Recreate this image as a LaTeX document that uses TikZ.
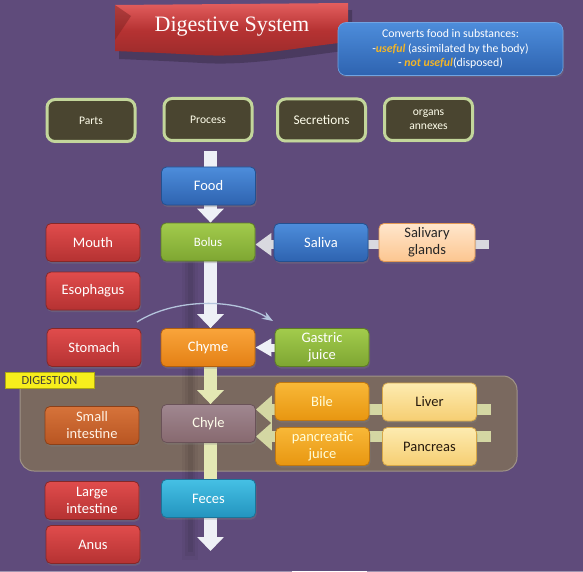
\documentclass[tikz,border=0pt]{standalone}
\usepackage{fontspec}
\setmainfont{Carlito}
\newfontfamily\titlefont{Liberation Serif}
\usetikzlibrary{arrows.meta,shadows}
\pgfdeclarelayer{bg}\pgfdeclarelayer{arr}
\pgfsetlayers{bg,arr,main}
\definecolor{bgP}{HTML}{5F4B7B}
\definecolor{hdrF}{HTML}{4A4530}
\definecolor{hdrD}{HTML}{C3D69B}
\definecolor{redT}{HTML}{E04C4C}
\definecolor{redB}{HTML}{B53232}
\definecolor{redD}{HTML}{862828}
\definecolor{bluT}{HTML}{4D8DDB}
\definecolor{bluB}{HTML}{2E63B0}
\definecolor{bluD}{HTML}{24508F}
\definecolor{grnT}{HTML}{A2CB4C}
\definecolor{grnB}{HTML}{7EA632}
\definecolor{grnD}{HTML}{5E7E24}
\definecolor{pchT}{HTML}{FFE6CC}
\definecolor{pchB}{HTML}{FCC690}
\definecolor{pchD}{HTML}{E49A55}
\definecolor{orgT}{HTML}{F9A53A}
\definecolor{orgB}{HTML}{E47F15}
\definecolor{orgD}{HTML}{B05F10}
\definecolor{sinT}{HTML}{D6733A}
\definecolor{sinB}{HTML}{B85522}
\definecolor{sinD}{HTML}{8C4018}
\definecolor{chlT}{HTML}{A08790}
\definecolor{chlB}{HTML}{87696F}
\definecolor{chlD}{HTML}{6A5258}
\definecolor{bilT}{HTML}{F8B838}
\definecolor{bilB}{HTML}{E89610}
\definecolor{bilD}{HTML}{C07810}
\definecolor{livT}{HTML}{FDEBB0}
\definecolor{livB}{HTML}{F6CE72}
\definecolor{livD}{HTML}{D8A848}
\definecolor{fecT}{HTML}{45C0E4}
\definecolor{fecB}{HTML}{2394BF}
\definecolor{fecD}{HTML}{1C7498}
\definecolor{arrW}{HTML}{EEF0F6}
\definecolor{arrY}{HTML}{E4E8B4}
\definecolor{arrG}{HTML}{D9D9DF}
\definecolor{arrL}{HTML}{D4D7A3}
\definecolor{grpF}{HTML}{7C6B5E}
\definecolor{grpD}{HTML}{A09488}
\definecolor{yel}{HTML}{F2B528}
\definecolor{labY}{HTML}{F7EE1C}
\definecolor{curveC}{HTML}{B4C4DC}
\tikzset{
  box/.style={rounded corners=5pt, minimum width=94pt, minimum height=38pt, inner sep=1pt,
    align=center, font=\fontsize{14.5}{17}\selectfont, text=white, line width=0.8pt,
    drop shadow={shadow xshift=1pt, shadow yshift=-2pt, opacity=0.35}},
  redbox/.style={box, top color=redT, bottom color=redB, draw=redD},
  blubox/.style={box, top color=bluT, bottom color=bluB, draw=bluD},
  grnbox/.style={box, top color=grnT, bottom color=grnB, draw=grnD},
  pchbox/.style={box, top color=pchT, bottom color=pchB, draw=pchD, text=black!85},
  orgbox/.style={box, top color=orgT, bottom color=orgB, draw=orgD},
  sinbox/.style={box, top color=sinT, bottom color=sinB, draw=sinD, text=white!90!orange},
  chlbox/.style={box, top color=chlT, bottom color=chlB, draw=chlD, text=white!92!yellow},
  bilbox/.style={box, top color=bilT, bottom color=bilB, draw=bilD, text=white!85!yellow},
  livbox/.style={box, top color=livT, bottom color=livB, draw=livD, text=black!80!brown},
  fecbox/.style={box, top color=fecT, bottom color=fecB, draw=fecD},
  hdr/.style={rounded corners=8pt, minimum width=88pt, minimum height=42pt, fill=hdrF, draw=hdrD,
    line width=3pt, text=white!92!yellow, align=center, font=\fontsize{11.6}{13.5}\selectfont,
    drop shadow={shadow xshift=1pt, shadow yshift=-2pt, opacity=0.3}},
  wshaft/.style={line width=13pt, draw=arrW},
  wtip/.style={wshaft, -{Triangle[width=26pt,length=14pt]}},
  yshaft/.style={line width=13pt, draw=arrY},
  ytip/.style={yshaft, -{Triangle[width=26pt,length=14pt]}},
  gstrip/.style={line width=9pt, draw=arrG, -{Triangle[width=22pt,length=16pt]}},
  lstrip/.style={line width=11pt, draw=arrL, -{Triangle[width=27pt,length=16pt]}},
  smalltip/.style={line width=8pt, draw=arrW, -{Triangle[width=17pt,length=16pt]}},
  curvearrow/.style={draw=curveC, line width=1.3pt, -{Stealth[length=11pt,width=8pt]}}
}
\begin{document}
\begin{tikzpicture}[x=1pt,y=-1pt]
\useasboundingbox (0,0) rectangle (583,572);
\begin{pgfonlayer}{bg}
\fill[bgP] (0,0) rectangle (583,572);
\fill[bgP!60!white] (0,570.5) rectangle (583,572);
\fill[white] (292,570.5) rectangle (367,572);
\fill[grpF, opacity=0.95, rounded corners=14pt] (20,376) rectangle (517,471);
\draw[grpD, line width=1pt, rounded corners=14pt] (20,376) rectangle (517,471);
\fill[black, opacity=0.04] (182,255) rectangle (198,560);
\fill[black, opacity=0.05] (185,258) rectangle (195,556);
\fill[black, opacity=0.06] (187.5,262) rectangle (192.5,552);
\end{pgfonlayer}

% title banner
\fill[black, opacity=0.22] (119,12) -- (352,10) -- (352,50) .. controls (300,56) and (250,66) .. (202,63) .. controls (165,61) .. (119,59) -- cycle;
\shade[top color=redT!90!white, bottom color=redB!85!black, middle color=redB]
  (115,5) -- (348,3) -- (348,42) .. controls (292,48) and (250,58) .. (200,55) .. controls (162,53) .. (115,51) -- cycle;
\fill[redB!70!black, opacity=0.5] (115,5) -- (131,16) -- (115,40) -- cycle;
\node[font=\titlefont\fontsize{22}{24}\selectfont, text=white!95!pink] (title) at (232,27) {Digestive System};

% description box
\node[rounded corners=8pt, minimum width=225pt, minimum height=53pt, inner sep=2pt,
  top color=bluT, bottom color=bluB, draw=bluT!80!white, line width=0.6pt, text=white, align=center,
  font=\fontsize{11.8}{14.5}\selectfont,
  drop shadow={shadow xshift=1pt, shadow yshift=-2pt, opacity=0.3}] (desc) at (450.5,49)
  {Converts food in substances:\\
   -{\color{yel}\textbf{\textit{useful}}} (assimilated by the body)\\
   - {\color{yel}\textbf{\textit{not useful}}}(disposed)};

% headers
\node[hdr] (parts) at (91,120.5) {Parts};
\node[hdr] (process) at (208,119.5) {Process};
\node[hdr, font=\fontsize{13.3}{15}\selectfont] (secr) at (321.5,120) {Secretions};
\node[hdr] (organs) at (428.5,119.5) {organs\\annexes};

% nodes
\node[blubox] (food) at (208.5,186) {Food};
\node[grnbox, font=\fontsize{12.8}{15}\selectfont] (bolus) at (208,242) {Bolus};
\node[blubox] (saliva) at (321,242.5) {Saliva};
\node[pchbox, minimum width=96pt] (glands) at (427,242.5) {Salivary\\glands};
\node[redbox] (mouth) at (93,242.5) {Mouth};
\node[redbox] (esoph) at (93,291) {Esophagus};
\node[redbox] (stomach) at (94,347.5) {Stomach};
\node[orgbox] (chyme) at (208,347.5) {Chyme};
\node[grnbox] (gastric) at (322,347.5) {Gastric\\juice};
\node[sinbox] (small) at (92,425.5) {Small\\intestine};
\node[chlbox] (chyle) at (208.5,423.5) {Chyle};
\node[bilbox] (bile) at (322,401.5) {Bile};
\node[livbox] (liver) at (429.5,402) {Liver};
\node[bilbox] (pjuice) at (322.5,446.5) {pancreatic\\juice};
\node[livbox] (pancreas) at (429.5,446.5) {Pancreas};
\node[redbox] (large) at (92,500.5) {Large\\intestine};
\node[fecbox] (feces) at (208.5,498.5) {Feces};
\node[redbox] (anus) at (93,544.5) {Anus};

\node[fill=labY, draw=labY!70!black, line width=0.5pt, minimum width=89pt, minimum height=16pt, inner sep=0pt,
  text=black!75!yellow!60!black, font=\fontsize{12.5}{14}\selectfont] (digest) at (49.5,380) {DIGESTION};

% connectors
\coordinate (in) at (210.5,151);
\coordinate (out) at (210.5,551);
\coordinate (gR) at (489,244.5);
\coordinate (lR) at (491,409.5);
\coordinate (pR) at (491,436.5);
\coordinate (c1) at (137,322);
\coordinate (c2) at (273,321);
\begin{pgfonlayer}{arr}
\draw[wshaft] (in) -- (in |- food.north);
\draw[wtip] (food.south -| in) -- (bolus.north -| in);
\draw[wtip] (bolus.south -| in) -- (chyme.north -| in);
\draw[ytip] (chyme.south -| in) -- (chyle.north -| in);
\draw[yshaft] (chyle.south -| in) -- (feces.north -| in);
\draw[wtip] (feces.south -| in) -- (out);
\draw[gstrip] (gR) -- (bolus.east |- gR);
\draw[lstrip] (lR) -- (chyle.east |- lR);
\draw[lstrip] (pR) -- (chyle.east |- pR);
\draw[smalltip] (gastric.west) -- (chyme.east);
\draw[curvearrow] (c1) .. controls (175,298) and (235,298) .. (c2);
\end{pgfonlayer}
\end{tikzpicture}
\end{document}
